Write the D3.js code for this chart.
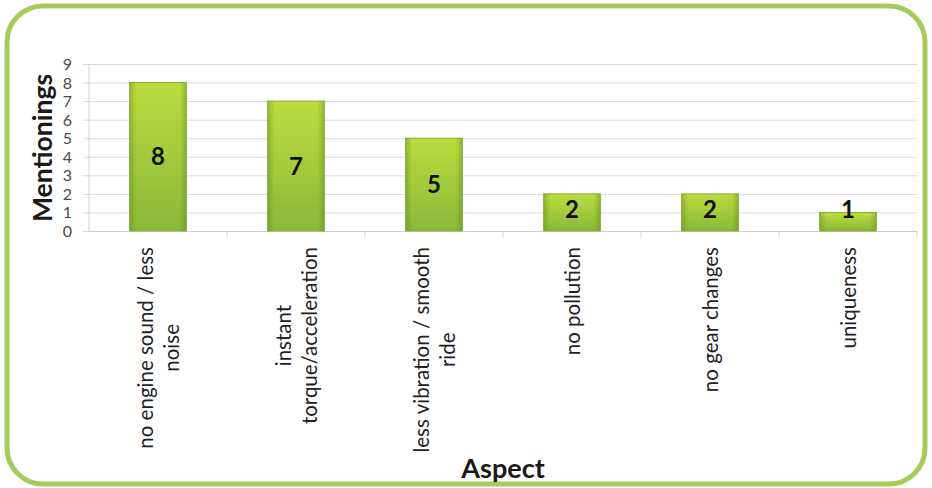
<!DOCTYPE html>
<html>
<head>
<meta charset="utf-8">
<script src="https://cdn.jsdelivr.net/npm/d3@7"></script>
<style>
  html, body { margin: 0; padding: 0; background: #fff; }
  svg { display: block; }
</style>
</head>
<body>
<svg id="chart" width="932" height="488"></svg>
<script>
// Aspects mentioned and how often each one came up
const categories = [
  ["no engine sound / less", "noise"],
  ["instant", "torque/acceleration"],
  ["less vibration / smooth", "ride"],
  ["no pollution"],
  ["no gear changes"],
  ["uniqueness"]
];
const mentions = [8, 7, 5, 2, 2, 1];
const yTicks = [0, 1, 2, 3, 4, 5, 6, 7, 8, 9];
const yTitle = "Mentionings";
const xTitle = "Aspect";

const W = 932, H = 488;
const margin = { left: 89, right: 15, top: 64, bottom: 257 };
const plotW = W - margin.left - margin.right;
const plotH = H - margin.top - margin.bottom;
const font = "Lato, 'Open Sans', sans-serif";

const svg = d3.select("#chart");

// Gradients for the bars: vertical light-to-dark plus darker side edges
const defs = svg.append("defs");
const gv = defs.append("linearGradient").attr("id", "barV")
  .attr("x1", 0).attr("y1", 0).attr("x2", 0).attr("y2", 1);
gv.append("stop").attr("offset", "0%").attr("stop-color", "#bcdc3e");
gv.append("stop").attr("offset", "100%").attr("stop-color", "#89b93a");
const gh = defs.append("linearGradient").attr("id", "barH")
  .attr("x1", 0).attr("y1", 0).attr("x2", 1).attr("y2", 0);
gh.append("stop").attr("offset", "0%").attr("stop-color", "#4d7a10").attr("stop-opacity", 0.35);
gh.append("stop").attr("offset", "12%").attr("stop-color", "#4d7a10").attr("stop-opacity", 0);
gh.append("stop").attr("offset", "88%").attr("stop-color", "#4d7a10").attr("stop-opacity", 0);
gh.append("stop").attr("offset", "100%").attr("stop-color", "#4d7a10").attr("stop-opacity", 0.35);

// Rounded green frame
svg.append("rect")
  .attr("x", 7).attr("y", 6)
  .attr("width", W - 14).attr("height", H - 10)
  .attr("rx", 36).attr("ry", 36)
  .attr("fill", "#fff")
  .attr("stroke", "#a5cb5a")
  .attr("stroke-width", 5);

const g = svg.append("g").attr("transform", `translate(${margin.left},${margin.top})`);

const x = d3.scaleBand()
  .domain(d3.range(categories.length))
  .range([0, plotW])
  .paddingInner(0.59)
  .paddingOuter(0.295);

const xBand = d3.scaleBand()
  .domain(d3.range(categories.length))
  .range([0, plotW]);

const y = d3.scaleLinear().domain([0, 9]).range([plotH, 0]);

// Horizontal gridlines with short ticks to the left
const yAxis = d3.axisLeft(y)
  .tickValues(yTicks)
  .tickSize(-plotW - 6)
  .tickSizeOuter(0)
  .tickPadding(0)
  .tickFormat(d3.format("d"));
const yg = g.append("g").attr("transform", "translate(-6,0)").call(yAxis);
yg.select(".domain").remove();
yg.selectAll(".tick line").attr("stroke", "#d9d9d9").attr("stroke-width", 1)
  .attr("x1", 0).attr("x2", plotW + 6);
yg.selectAll(".tick text")
  .attr("x", -11)
  .attr("dy", "0.34em")
  .attr("font-family", font)
  .attr("font-size", 16)
  .attr("fill", "#4a4a4a");

// Vertical axis line
g.append("line")
  .attr("x1", 0).attr("x2", 0)
  .attr("y1", 0).attr("y2", plotH)
  .attr("stroke", "#d0d0d0");

// Category boundary ticks on the baseline
const xAxis = d3.axisBottom(xBand).tickValues([]).tickSizeOuter(0);
const xg = g.append("g").attr("transform", `translate(0,${plotH})`).call(xAxis);
xg.select(".domain").attr("stroke", "#cfcfcf");
g.selectAll(".xtick")
  .data(d3.range(1, categories.length + 1))
  .join("line")
  .attr("class", "xtick")
  .attr("x1", d => xBand.step() * d).attr("x2", d => xBand.step() * d)
  .attr("y1", plotH).attr("y2", plotH + 6)
  .attr("stroke", "#cfcfcf");

// Bars
const bars = g.selectAll(".bar").data(mentions).join("g").attr("class", "bar");
bars.append("rect")
  .attr("x", (d, i) => x(i))
  .attr("y", d => y(d))
  .attr("width", x.bandwidth())
  .attr("height", d => y(0) - y(d))
  .attr("fill", "url(#barV)")
  .attr("stroke", "#86ad3a")
  .attr("stroke-width", 1);
bars.append("rect")
  .attr("x", (d, i) => x(i))
  .attr("y", d => y(d))
  .attr("width", x.bandwidth())
  .attr("height", d => y(0) - y(d))
  .attr("fill", "url(#barH)");

// Value labels inside the bars
bars.append("text")
  .attr("x", (d, i) => x(i) + x.bandwidth() / 2)
  .attr("y", d => Math.min((y(d) + y(0)) / 2, y(0) - 22))
  .attr("dy", "0.36em")
  .attr("text-anchor", "middle")
  .attr("font-family", font)
  .attr("font-weight", "bold")
  .attr("font-size", 24)
  .attr("fill", "#111")
  .text(d => d);

// Rotated category labels, lines centred on each other
const labelTop = plotH + 16;
const lineGap = 26;
categories.forEach((lines, i) => {
  const cx = xBand(i) + xBand.bandwidth() / 2;
  const lg = g.append("g");
  const texts = lines.map((line, k) => lg.append("text")
    .attr("font-family", font)
    .attr("font-size", 20.5)
    .attr("fill", "#222")
    .attr("text-anchor", "middle")
    .text(line));
  const maxLen = d3.max(texts, t => t.node().getComputedTextLength());
  const off0 = -(lines.length - 1) * lineGap / 2;
  texts.forEach((t, k) => {
    const px = cx + off0 + k * lineGap + 8;
    const py = labelTop + maxLen / 2;
    t.attr("transform", `translate(${px},${py}) rotate(-90)`);
  });
});

// Axis titles
svg.append("text")
  .attr("transform", `translate(52,${margin.top + 84}) rotate(-90)`)
  .attr("text-anchor", "middle")
  .attr("font-family", font)
  .attr("font-weight", "bold")
  .attr("font-size", 26.5)
  .attr("fill", "#1a1a1a")
  .text(yTitle);

svg.append("text")
  .attr("x", 503).attr("y", 478)
  .attr("text-anchor", "middle")
  .attr("font-family", font)
  .attr("font-weight", "bold")
  .attr("font-size", 27)
  .attr("fill", "#1a1a1a")
  .text(xTitle);
</script>
</body>
</html>
